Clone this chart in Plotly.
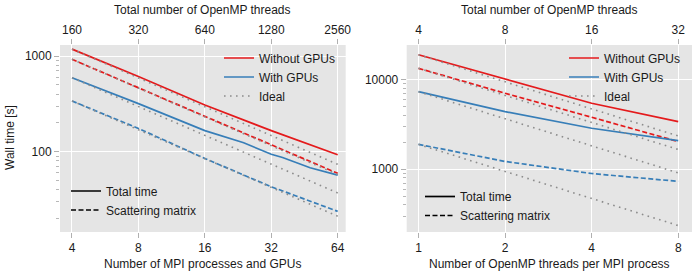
import plotly.graph_objects as go

# ---------------- data ----------------
# Left panel: strong scaling over MPI processes (40 OpenMP threads each)
mpi_procs = [4, 8, 16, 32, 64]
mpi_ticks = [4, 8, 16, 32, 64]
mpi_total_threads = ["160", "320", "640", "1280", "2560"]
left_nogpu_total = [1180, 610, 308, 166, 93]
left_nogpu_scatter = [924, 467, 232, 119, 59.5]
left_gpu_total_procs = [4, 8, 16, 24, 32, 36, 48, 64]
left_gpu_total = [593, 318, 166, 124, 94, 87, 68, 57]
left_gpu_scatter = [339, 175, 85, 43, 23.8]

# Right panel: OpenMP threads per MPI process (4 MPI processes)
omp_threads = [1, 2, 4, 8]
omp_ticks = [1, 2, 4, 8]
omp_total_threads = ["4", "8", "16", "32"]
right_nogpu_total = [18750, 10000, 5410, 3380]
right_nogpu_scatter = [13250, 6990, 3784, 2027]
right_gpu_total = [7280, 4366, 2855, 2080]
right_gpu_scatter = [1890, 1220, 895, 732]

left_yticks = [100, 1000]
right_yticks = [1000, 10000]

RED = "#e41a1c"
BLUE = "#377eb8"
GRAY = "#8c8c8c"
TXT = "#1a1a1a"
FONT = "Liberation Sans"
DASH = "5px,2.5px"
DOT = "1.6px,4.4px"


def ideal(xs, ys):
    """Ideal (linear) scaling from the first measured point."""
    return [xs[0], xs[-1]], [ys[0], ys[0] * xs[0] / xs[-1]]


fig = go.Figure()


def add_panel(xa, ya, xa_top, leg_a, leg_b, series):
    # measured curves
    for name, xs, ys, color, dash, show in series:
        fig.add_trace(go.Scatter(
            x=xs, y=ys, mode="lines", name=name,
            line=dict(color=color, width=1.7, dash=dash),
            xaxis=xa, yaxis=ya, legend=leg_a, showlegend=show,
            hoverinfo="skip"))
    # ideal scaling lines (drawn on the overlaid top axis, above the curves)
    first = True
    for name, xs, ys, color, dash, show in series:
        ix, iy = ideal(xs, ys)
        fig.add_trace(go.Scatter(
            x=ix, y=iy, mode="lines", name="Ideal",
            line=dict(color=GRAY, width=1.6, dash=DOT),
            xaxis=xa_top, yaxis=ya, legend=leg_a, showlegend=first,
            hoverinfo="skip"))
        first = False
    # line-style legend
    fig.add_trace(go.Scatter(x=[None], y=[None], mode="lines", name="Total time",
                             line=dict(color="black", width=1.7),
                             xaxis=xa, yaxis=ya, legend=leg_b))
    fig.add_trace(go.Scatter(x=[None], y=[None], mode="lines", name="Scattering matrix",
                             line=dict(color="black", width=1.7, dash=DASH),
                             xaxis=xa, yaxis=ya, legend=leg_b))


add_panel("x", "y", "x2", "legend", "legend2", [
    ("Without GPUs", mpi_procs, left_nogpu_total, RED, "solid", True),
    ("Without GPUs", mpi_procs, left_nogpu_scatter, RED, DASH, False),
    ("With GPUs", left_gpu_total_procs, left_gpu_total, BLUE, "solid", True),
    ("With GPUs", mpi_procs, left_gpu_scatter, BLUE, DASH, False),
])
add_panel("x3", "y2", "x4", "legend3", "legend4", [
    ("Without GPUs", omp_threads, right_nogpu_total, RED, "solid", True),
    ("Without GPUs", omp_threads, right_nogpu_scatter, RED, DASH, False),
    ("With GPUs", omp_threads, right_gpu_total, BLUE, "solid", True),
    ("With GPUs", omp_threads, right_gpu_scatter, BLUE, DASH, False),
])

W, H = 694, 274
dom_left = [60 / W, 345.7 / W]
dom_right = [406.7 / W, 692 / W]
dom_y = [1 - 232 / H, 1 - 45 / H]

tickfont = dict(family=FONT, size=12, color=TXT)
common_x = dict(type="log", showline=False, zeroline=False, ticks="outside",
                ticklen=5, tickwidth=1, tickcolor="#b0b0b0", tickfont=tickfont,
                automargin=False)


def minor_vals(lo_dec, hi_dec):
    return [m * 10 ** d for d in range(lo_dec, hi_dec) for m in range(2, 10)]


common_y = dict(type="log", showline=False, zeroline=False, ticks="outside",
                ticklen=5, tickwidth=1, tickcolor="#b0b0b0", tickfont=tickfont,
                gridcolor="white", gridwidth=1, automargin=False)

fig.update_layout(
    width=W, height=H,
    margin=dict(l=0, r=0, t=0, b=0),
    paper_bgcolor="white", plot_bgcolor="#e5e5e5",
    font=dict(family=FONT, size=12, color=TXT),
    xaxis=dict(common_x, domain=dom_left, anchor="y", range=[0.5477, 1.8425],
               tickvals=mpi_ticks, ticktext=[str(v) for v in mpi_ticks],
               showgrid=True, gridcolor="white", gridwidth=1),
    xaxis2=dict(common_x, overlaying="x", side="top", anchor="y",
                range=[0.5477, 1.8425], tickvals=mpi_ticks,
                ticktext=mpi_total_threads, showgrid=False),
    yaxis=dict(common_y, domain=dom_y, anchor="x", range=[1.161, 3.115],
               tickvals=left_yticks, ticktext=[str(v) for v in left_yticks],
               minor=dict(tickvals=minor_vals(1, 3), ticks="outside", ticklen=3,
                          tickcolor="#b8b8b8", showgrid=False)),
    xaxis3=dict(common_x, domain=dom_right, anchor="y2", range=[-0.041, 0.951],
                tickvals=omp_ticks, ticktext=[str(v) for v in omp_ticks],
                showgrid=True, gridcolor="white", gridwidth=1),
    xaxis4=dict(common_x, overlaying="x3", side="top", anchor="y2",
                range=[-0.041, 0.951], tickvals=omp_ticks,
                ticktext=omp_total_threads, showgrid=False),
    yaxis2=dict(common_y, domain=dom_y, anchor="x3", range=[2.3015, 4.3815],
                tickvals=right_yticks, ticktext=[str(v) for v in right_yticks],
                minor=dict(tickvals=minor_vals(2, 4), ticks="outside", ticklen=3,
                           tickcolor="#b8b8b8", showgrid=False)),
)

leg_common = dict(xanchor="left", yanchor="top", bgcolor="rgba(0,0,0,0)",
                  borderwidth=0, font=dict(family=FONT, size=12, color=TXT),
                  itemwidth=30, tracegroupgap=0)
fig.update_layout(
    legend=dict(leg_common, x=219 / W, y=1 - 43.5 / H),
    legend2=dict(leg_common, x=66 / W, y=1 - 176.5 / H),
    legend3=dict(leg_common, x=564 / W, y=1 - 43.5 / H),
    legend4=dict(leg_common, x=420 / W, y=1 - 182 / H),
)

# axis titles
ann = dict(xref="paper", yref="paper", showarrow=False, xanchor="center",
           yanchor="middle", font=dict(family=FONT, size=12, color=TXT))
cx_l = (dom_left[0] + dom_left[1]) / 2
cx_r = (dom_right[0] + dom_right[1]) / 2
fig.add_annotation(ann, x=cx_l, y=1 - 10 / H, text="Total number of OpenMP threads")
fig.add_annotation(ann, x=cx_r, y=1 - 10 / H, text="Total number of OpenMP threads")
fig.add_annotation(ann, x=cx_l, y=1 - 264 / H, text="Number of MPI processes and GPUs")
fig.add_annotation(ann, x=cx_r, y=1 - 264 / H, text="Number of OpenMP threads per MPI process")
fig.add_annotation(ann, x=10 / W, y=1 - 138 / H, text="Wall time [s]", textangle=-90)

fig.write_html("out.html", config={"displayModeBar": False},
               post_script="document.body.style.margin='0';document.body.style.overflow='hidden';")
